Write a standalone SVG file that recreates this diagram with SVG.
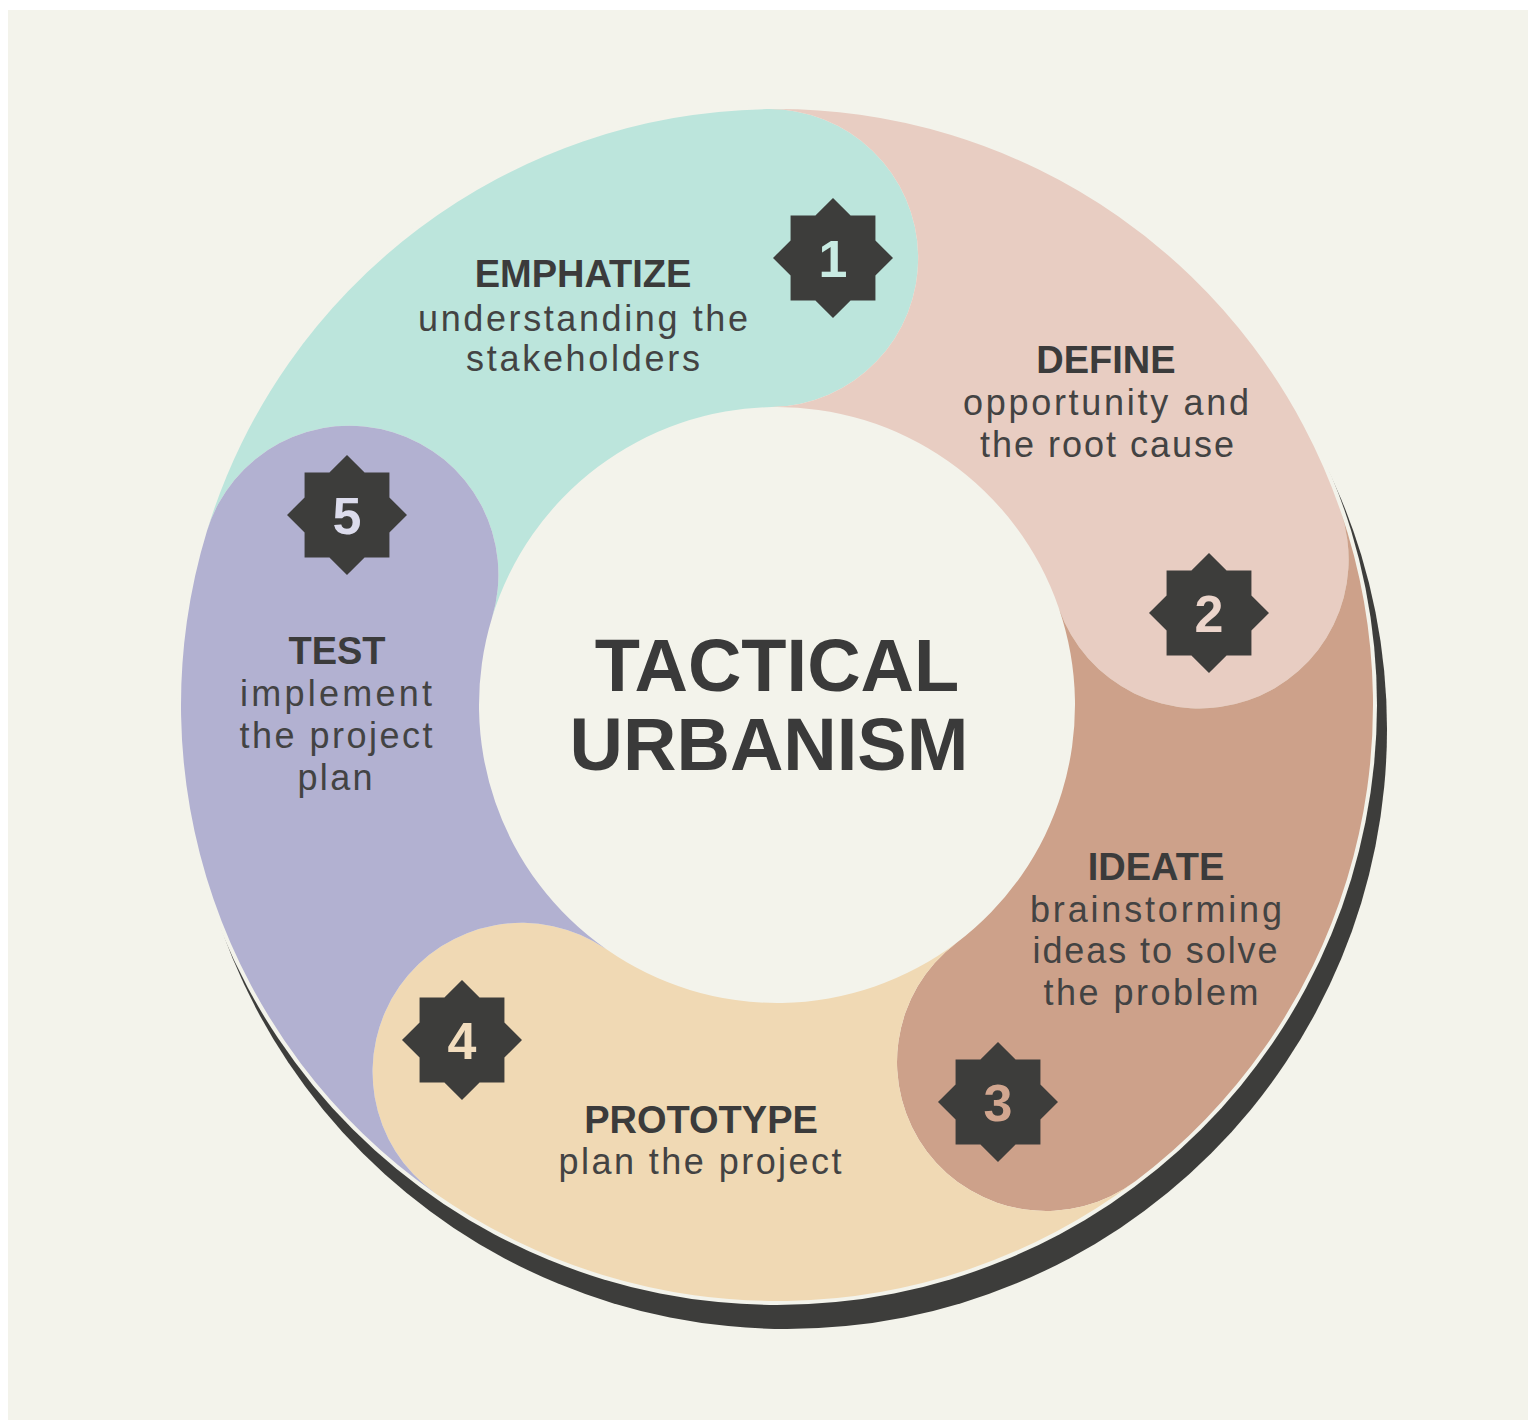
<svg xmlns="http://www.w3.org/2000/svg" width="1536" height="1428" viewBox="0 0 1536 1428">
<defs>
<style>
.h{font-family:"Liberation Sans",Arial,sans-serif;font-weight:bold;font-size:38px;fill:#3b3b3b;text-anchor:middle}
.s{font-family:"Liberation Sans",Arial,sans-serif;font-size:36px;fill:#434343;text-anchor:middle}
.n{font-family:"Liberation Sans",Arial,sans-serif;font-weight:bold;font-size:52px;text-anchor:middle}
.t{font-family:"Liberation Sans",Arial,sans-serif;font-weight:bold;font-size:74px;fill:#3a3a3a;text-anchor:middle}
.star{fill:#3d3d3b}
</style>
<path id="star" d="M60 0 L42.43 17.57 L42.43 42.43 L17.57 42.43 L0 60 L-17.57 42.43 L-42.43 42.43 L-42.43 17.57 L-60 0 L-42.43 -17.57 L-42.43 -42.43 L-17.57 -42.43 L0 -60 L17.57 -42.43 L42.43 -42.43 L42.43 -17.57 Z"/>
</defs>
<rect width="1536" height="1428" fill="#ffffff"/>
<rect x="8" y="10" width="1520" height="1410" fill="#f3f3eb"/>
<g id="ring-base">
<circle cx="787" cy="729" r="600" fill="#3d3d3b"/>
<circle cx="777" cy="705" r="600" fill="#f3f3eb"/>
</g>
<g id="emphatize">
<path d="M207.04 530.75 A596 596 0 0 1 766.6 109.09 A149 149 0 0 1 771.8 407.05 A298 298 0 0 0 492.02 617.87 A149 149 0 0 0 207.04 530.75 Z" fill="#bce5dc"/>
<use href="#star" class="star" x="833" y="258"/>
<text class="n" x="833" y="277" fill="#c8ebe2">1</text>
<text class="h" x="583" y="287">EMPHATIZE</text>
<text class="s" x="583" y="331" textLength="330" lengthAdjust="spacing">understanding the</text>
<text class="s" x="583" y="371" textLength="234" lengthAdjust="spacing">stakeholders</text>
</g>
<g id="define">
<path d="M766.6 109.09 A596 596 0 0 1 1340.53 510.96 A149 149 0 0 1 1058.76 607.98 A298 298 0 0 0 771.8 407.05 A149 149 0 0 0 766.6 109.09 Z" fill="#e8cdc2"/>
<use href="#star" class="star" x="1209" y="613"/>
<text class="n" x="1209" y="632" fill="#ecd5cb">2</text>
<text class="h" x="1106" y="373">DEFINE</text>
<text class="s" x="1106" y="415" textLength="286" lengthAdjust="spacing">opportunity and</text>
<text class="s" x="1107" y="457" textLength="254" lengthAdjust="spacing">the root cause</text>
</g>
<g id="ideate">
<path d="M1340.53 510.96 A596 596 0 0 1 1135.68 1180.99 A149 149 0 0 1 956.34 942.99 A298 298 0 0 0 1058.76 607.98 A149 149 0 0 0 1340.53 510.96 Z" fill="#cda18a"/>
<use href="#star" class="star" x="998" y="1102"/>
<text class="n" x="998" y="1121" fill="#d2a68f">3</text>
<text class="h" x="1156" y="880">IDEATE</text>
<text class="s" x="1156" y="922" textLength="252" lengthAdjust="spacing">brainstorming</text>
<text class="s" x="1155" y="963" textLength="245" lengthAdjust="spacing">ideas to solve</text>
<text class="s" x="1151" y="1005" textLength="215" lengthAdjust="spacing">the problem</text>
</g>
<g id="prototype">
<path d="M1135.68 1180.99 A596 596 0 0 1 435.15 1193.21 A149 149 0 0 1 606.07 949.11 A298 298 0 0 0 956.34 942.99 A149 149 0 0 0 1135.68 1180.99 Z" fill="#f0d9b4"/>
<use href="#star" class="star" x="462" y="1040"/>
<text class="n" x="462" y="1059" fill="#f2ddbe">4</text>
<text class="h" x="701" y="1133">PROTOTYPE</text>
<text class="s" x="700" y="1174" textLength="283" lengthAdjust="spacing">plan the project</text>
</g>
<g id="test">
<path d="M435.15 1193.21 A596 596 0 0 1 207.04 530.75 A149 149 0 0 1 492.02 617.87 A298 298 0 0 0 606.07 949.11 A149 149 0 0 0 435.15 1193.21 Z" fill="#b2b1d1"/>
<use href="#star" class="star" x="347" y="515"/>
<text class="n" x="347" y="534" fill="#dcdcec">5</text>
<text class="h" x="337" y="664">TEST</text>
<text class="s" x="336" y="706" textLength="192" lengthAdjust="spacing">implement</text>
<text class="s" x="336" y="748" textLength="193" lengthAdjust="spacing">the project</text>
<text class="s" x="335" y="790" textLength="75" lengthAdjust="spacing">plan</text>
</g>
<g id="center">
<text class="t" x="777" y="691">TACTICAL</text>
<text class="t" x="769" y="770">URBANISM</text>
</g>
<g id="connectors"/>
</svg>
